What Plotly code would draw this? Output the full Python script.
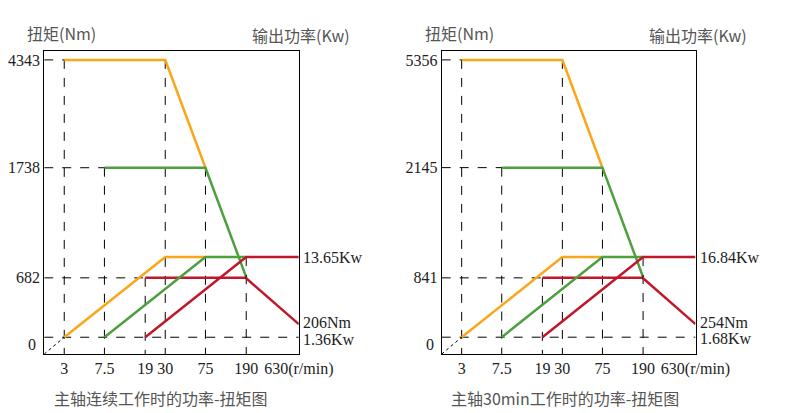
import math
import plotly.graph_objects as go

# speeds (r/min)
speeds = [3, 7.5, 19, 30, 75, 190, 630]
speed_labels = ["3", "7.5", "19", "30", "75", "190", "630(r/min)"]

# continuous duty
cont_torque = [4343, 1738, 682, 206]
cont_power = [1.36, 13.65]
# 30 min duty
s30_torque = [5356, 2145, 841, 254]
s30_power = [1.68, 16.84]

ORANGE = "#FAA61A"
GREEN = "#4E9F3D"
RED = "#C0182A"
SERIF = "Liberation Serif"
CJK = "Noto Sans CJK SC"

fig = go.Figure()


def panel(n, torque, power, x0, x1, caption):
    xa = "x" if n == 0 else "x2"
    ya_t = "y" if n == 0 else "y4"
    ya_p = "y2" if n == 0 else "y5"
    ya_r = "y3" if n == 0 else "y6"
    t0, t1, t2, t3 = torque
    p_lo, p_hi = power
    s = speeds
    # axis ranges (schematic log scale)
    xr = [math.log10(1.9), math.log10(630)]
    tr = [math.log10(t0 / 12.17), math.log10(t0 * 1.079)]
    pr = [math.log10(p_hi / 16.3), math.log10(p_hi * 376)]
    # the low-speed tail uses its own compressed scale, as in the drawing
    rb = t3 / 10 ** (30 / 88)
    rr = [math.log10(rb), math.log10(rb) + 303 / 88]
    xmin = 10 ** xr[0]
    pmin = 10 ** pr[0]

    def line(x, y, color, yref, dash=None, width=2.5):
        fig.add_trace(go.Scatter(x=x, y=y, mode="lines", xaxis=xa, yaxis=yref,
                                 line=dict(color=color, width=width, dash=dash),
                                 showlegend=False, hoverinfo="skip"))

    k = "black"
    # dashed guides
    line([xmin, s[3]], [t0, t0], k, ya_t, "dash", 1)
    line([xmin, s[4]], [t1, t1], k, ya_t, "dash", 1)
    line([xmin, s[5]], [t2, t2], k, ya_t, "dash", 1)
    line([s[0], s[0]], [t0, 10 ** tr[0]], k, ya_t, "dash", 1)
    line([s[3], s[3]], [t0, 10 ** tr[0]], k, ya_t, "dash", 1)
    line([s[1], s[1]], [t1, 10 ** tr[0]], k, ya_t, "dash", 1)
    line([s[4], s[4]], [t1, 10 ** tr[0]], k, ya_t, "dash", 1)
    line([s[2], s[2]], [t2, 10 ** tr[0]], k, ya_t, "dash", 1)
    line([s[5], s[5]], [p_hi, pmin], k, ya_p, "dash", 1)
    line([xmin, s[6]], [p_lo, p_lo], k, ya_p, "dash", 1)
    line([xmin, s[0]], [pmin, p_lo], k, ya_p, "dot", 1)

    # torque curves
    hx = [s[3] * (s[4] / s[3]) ** (i / 20) for i in range(21)]
    line([s[0]] + hx, [t0] + [t0 * s[3] / v for v in hx], ORANGE, ya_t)
    hx = [s[4] * (s[5] / s[4]) ** (i / 20) for i in range(21)]
    line([s[1]] + hx, [t1] + [t1 * s[4] / v for v in hx], GREEN, ya_t)
    line([s[2], s[5]], [t2, t2], RED, ya_t)
    hx = [s[5] * (s[6] / s[5]) ** (i / 20) for i in range(21)]
    line(hx, [t2 * s[5] / v for v in hx], RED, ya_r)
    # power curves
    line([s[0], s[3], s[4]], [p_lo, p_hi, p_hi], ORANGE, ya_p)
    line([s[1], s[4], s[5]], [p_lo, p_hi, p_hi], GREEN, ya_p)
    line([s[2], s[5], s[6]], [p_lo, p_hi, p_hi], RED, ya_p)

    tf = dict(family=SERIF, size=16, color="#222")
    ax = dict(domain=[x0, x1], type="log", range=xr, tickvals=s, ticktext=speed_labels,
              showgrid=False, zeroline=False, showline=True, mirror=True,
              linecolor="black", linewidth=1, ticks="", tickfont=tf, anchor=ya_t)
    ya = dict(domain=[0.162, 0.896], type="log", range=tr, tickvals=[t0, t1, t2],
              ticktext=[str(t0), str(t1), str(t2)], showgrid=False, zeroline=False,
              showline=True, mirror=True, linecolor="black", linewidth=1, ticks="",
              tickfont=tf, anchor=xa)
    yp = dict(type="log", range=pr, overlaying=ya_t, showgrid=False, zeroline=False,
              showticklabels=False, anchor=xa)
    yr = dict(type="log", range=rr, overlaying=ya_t, showgrid=False, zeroline=False,
              showticklabels=False, anchor=xa)
    i = 1 if n == 0 else 4
    fig.update_layout(**{("xaxis" if n == 0 else "xaxis2"): ax,
                         f"yaxis{'' if i == 1 else i}": ya,
                         f"yaxis{i + 1}": yp, f"yaxis{i + 2}": yr})

    ann = [
        (p_hi, ya_p, f"{p_hi}Kw"),
        (t3 * 1.05, ya_r, f"{t3}Nm"),
        (p_lo * 0.95, ya_p, f"{p_lo}Kw"),
    ]
    for y, yref, text in ann:
        fig.add_annotation(xref="paper", x=x1 + 0.003, y=math.log10(y), yref=yref,
                           text=text, showarrow=False, xanchor="left", font=tf)
    fig.add_annotation(xref="paper", yref="paper", x=x0 - 0.008, y=0.16, text="0",
                       showarrow=False, xanchor="right", font=tf)
    cf = dict(family=CJK, size=16, color="#555")
    fig.add_annotation(xref="paper", yref="paper", x=x0 - 0.025, y=0.94, text="扭矩(Nm)",
                       showarrow=False, xanchor="left", yanchor="middle", font=cf)
    fig.add_annotation(xref="paper", yref="paper", x=x1 + 0.07, y=0.935, text="输出功率(Kw)",
                       showarrow=False, xanchor="right", yanchor="middle", font=cf)
    fig.add_annotation(xref="paper", yref="paper", x=x0 + 0.01, y=0.055, text=caption,
                       showarrow=False, xanchor="left", yanchor="middle", font=cf)


panel(0, cont_torque, cont_power, 0.045, 0.380, "主轴连续工作时的功率-扭矩图")
panel(1, s30_torque, s30_power, 0.568, 0.902, "主轴30min工作时的功率-扭矩图")

fig.update_layout(width=797, height=413, margin=dict(l=0, r=0, t=0, b=0),
                  plot_bgcolor="white", paper_bgcolor="white")
fig.write_html("out.html")
